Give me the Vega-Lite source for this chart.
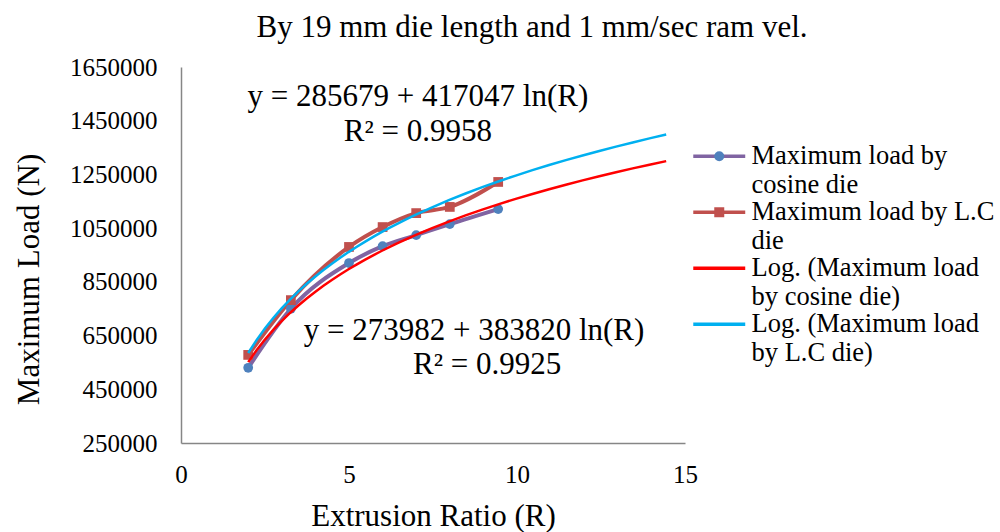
{
  "$schema": "https://vega.github.io/schema/vega-lite/v6.json",
  "width": 504,
  "height": 376,
  "autosize": {"type": "none"},
  "padding": {"left": 181, "top": 67, "right": 315, "bottom": 89},
  "background": "white",
  "config": {"font": "Liberation Serif", "view": {"stroke": null}},
  "title": {"text": "By 19 mm die length and 1 mm/sec ram vel.", "fontSize": 31, "fontWeight": "normal", "color": "black", "anchor": "middle", "dx": 99, "offset": -20, "baseline": "bottom"},
  "datasets": {
    "loads": [
      {"series": "Maximum load by cosine die", "R": 2, "load": 530000},
      {"series": "Maximum load by cosine die", "R": 3.27, "load": 750000},
      {"series": "Maximum load by cosine die", "R": 5, "load": 920000},
      {"series": "Maximum load by cosine die", "R": 6, "load": 983000},
      {"series": "Maximum load by cosine die", "R": 7, "load": 1024000},
      {"series": "Maximum load by cosine die", "R": 8, "load": 1065000},
      {"series": "Maximum load by cosine die", "R": 9.44, "load": 1121000},
      {"series": "Maximum load by L.C die", "R": 2, "load": 578000},
      {"series": "Maximum load by L.C die", "R": 3.27, "load": 782000},
      {"series": "Maximum load by L.C die", "R": 5, "load": 980000},
      {"series": "Maximum load by L.C die", "R": 6, "load": 1054000},
      {"series": "Maximum load by L.C die", "R": 7, "load": 1106000},
      {"series": "Maximum load by L.C die", "R": 8, "load": 1129000},
      {"series": "Maximum load by L.C die", "R": 9.44, "load": 1222000}
    ],
    "notes": [
      {"note": "y = 285679 + 417047 ln(R)", "nx": 7.05, "ny": 1538000},
      {"note": "R² = 0.9958", "nx": 7.05, "ny": 1408000},
      {"note": "y = 273982 + 383820 ln(R)", "nx": 8.72, "ny": 667000},
      {"note": "R² = 0.9925", "nx": 9.11, "ny": 540000}
    ]
  },
  "layer": [
    {
      "data": {"name": "loads"},
      "mark": {"type": "line", "interpolate": "monotone", "strokeWidth": 4},
      "encoding": {
        "x": {"field": "R", "type": "quantitative", "scale": {"domain": [0, 15], "nice": false},
          "axis": {"values": [0, 5, 10, 15], "grid": false, "ticks": false, "domainColor": "#868686", "domainWidth": 1.5, "labelFontSize": 25, "labelColor": "black", "labelPadding": 19, "labelFlush": false, "title": "Extrusion Ratio (R)", "titleFontSize": 31, "titleFontWeight": "normal", "titleColor": "black", "titlePadding": 14}},
        "y": {"field": "load", "type": "quantitative", "scale": {"domain": [250000, 1650000], "nice": false, "zero": false},
          "axis": {"values": [250000, 450000, 650000, 850000, 1050000, 1250000, 1450000, 1650000], "format": "d", "grid": false, "ticks": false, "domainColor": "#868686", "domainWidth": 1.5, "labelFontSize": 25, "labelColor": "black", "labelPadding": 24, "labelFlush": false, "title": "Maximum Load (N)", "titleFontSize": 31, "titleFontWeight": "normal", "titleColor": "black", "titlePadding": 24, "titleY": 212}},
        "color": {"field": "series", "type": "nominal",
          "scale": {"domain": ["Maximum load by cosine die", "Maximum load by L.C die", "Log. (Maximum load by cosine die)", "Log. (Maximum load by L.C die)"], "range": ["#8064A2", "#C0504D", "#FF0000", "#00B0F0"]},
          "legend": {"orient": "none", "legendX": 525, "legendY": 76, "title": null, "labelFontSize": 26.5, "labelColor": "black", "labelOffset": 19, "labelLimit": 400, "symbolType": "M-5,0h10", "symbolSize": 108, "symbolStrokeWidth": 3.5, "rowPadding": 0,
            "labelExpr": "datum.label == 'Maximum load by cosine die' ? ['Maximum load by', 'cosine die'] : datum.label == 'Maximum load by L.C die' ? ['Maximum load by L.C', 'die'] : datum.label == 'Log. (Maximum load by cosine die)' ? ['Log. (Maximum load', 'by cosine die)'] : ['Log. (Maximum load', 'by L.C die)']"}
        }
      }
    },
    {
      "data": {"name": "loads"},
      "mark": {"type": "point", "filled": true, "opacity": 1, "size": 95, "strokeWidth": 0},
      "encoding": {
        "x": {"field": "R", "type": "quantitative"},
        "y": {"field": "load", "type": "quantitative"},
        "fill": {"field": "series", "type": "nominal",
          "scale": {"domain": ["Maximum load by cosine die", "Maximum load by L.C die"], "range": ["#4F81BD", "#C0504D"]},
          "legend": {"orient": "none", "legendX": 525, "legendY": 76, "title": null, "labelFontSize": 26.5, "labelOpacity": 0, "labelOffset": 3, "labelLimit": 400, "symbolSize": 100, "symbolStrokeWidth": 0, "symbolOpacity": 1, "rowPadding": 0,
            "labelExpr": "datum.label == 'Maximum load by cosine die' ? ['Maximum load by', 'cosine die'] : ['Maximum load by L.C', 'die']"}
        },
        "shape": {"field": "series", "type": "nominal",
          "scale": {"domain": ["Maximum load by cosine die", "Maximum load by L.C die"], "range": ["circle", "square"]},
          "legend": {"orient": "none", "legendX": 525, "legendY": 76, "title": null, "labelFontSize": 26.5, "labelOpacity": 0, "labelOffset": 3, "labelLimit": 400, "symbolSize": 100, "symbolStrokeWidth": 0, "symbolOpacity": 1, "rowPadding": 0,
            "labelExpr": "datum.label == 'Maximum load by cosine die' ? ['Maximum load by', 'cosine die'] : ['Maximum load by L.C', 'die']"}
        }
      }
    },
    {
      "data": {"name": "loads"},
      "transform": [
        {"filter": "datum.series == 'Maximum load by cosine die'"},
        {"regression": "load", "on": "R", "method": "log", "extent": [2, 14.44]}
      ],
      "mark": {"type": "line", "strokeWidth": 2.5},
      "encoding": {
        "x": {"field": "R", "type": "quantitative"},
        "y": {"field": "load", "type": "quantitative"},
        "color": {"datum": "Log. (Maximum load by cosine die)"}
      }
    },
    {
      "data": {"name": "loads"},
      "transform": [
        {"filter": "datum.series == 'Maximum load by L.C die'"},
        {"regression": "load", "on": "R", "method": "log", "extent": [2, 14.44]}
      ],
      "mark": {"type": "line", "strokeWidth": 2.5},
      "encoding": {
        "x": {"field": "R", "type": "quantitative"},
        "y": {"field": "load", "type": "quantitative"},
        "color": {"datum": "Log. (Maximum load by L.C die)"}
      }
    },
    {
      "data": {"name": "notes"},
      "mark": {"type": "text", "fontSize": 31, "color": "black", "align": "center", "baseline": "middle"},
      "encoding": {
        "x": {"field": "nx", "type": "quantitative"},
        "y": {"field": "ny", "type": "quantitative"},
        "text": {"field": "note", "type": "nominal"}
      }
    }
  ]
}
